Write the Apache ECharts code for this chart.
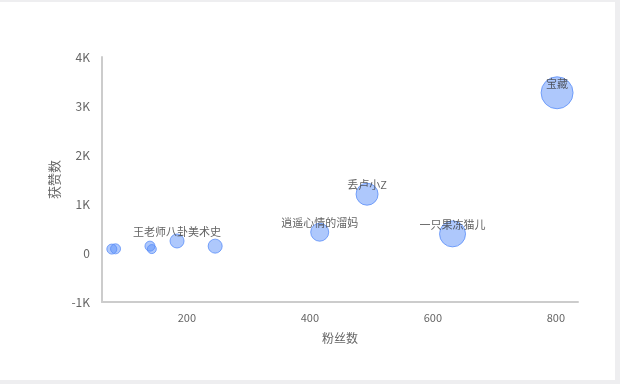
<!DOCTYPE html>
<html>
<head>
<meta charset="utf-8">
<script src="https://cdn.jsdelivr.net/npm/echarts@6/dist/echarts.min.js"></script>
<style>
html,body{margin:0;padding:0;background:#eeeef0;width:620px;height:384px;overflow:hidden;}
#c{position:absolute;left:0;top:2px;width:615px;height:378px;background:#fff;}
</style>
</head>
<body>
<div id="c"></div>
<script>
var names = ['', '', '', '', '王老师八卦美术史', '', '逍遥心情的溜妈', '丢卢小Z', '一只果冻猫儿', '宝藏'];
var fans = [78, 84, 140, 143, 184, 246, 416, 493, 632, 802];
var likes = [80, 85, 140, 80, 245, 140, 425, 1200, 390, 3270];
var bubble = [10, 10, 10, 9, 14, 14, 18, 22, 26, 32];
var yTicks = [-1000, 0, 1000, 2000, 3000, 4000];

var data = fans.map(function (f, i) {
  return { name: names[i], value: [f, likes[i], bubble[i]], label: { show: names[i] !== '' } };
});

var chart = echarts.init(document.getElementById('c'));
chart.setOption({
  animation: false,
  textStyle: { fontFamily: 'Noto Sans CJK SC, sans-serif' },
  grid: { left: 102, right: 37, top: 55, bottom: 78 },
  xAxis: {
    type: 'value',
    name: '粉丝数',
    nameLocation: 'middle',
    nameGap: 30,
    nameTextStyle: { color: '#666', fontSize: 12 },
    min: 62, max: 836,
    splitLine: { show: false },
    axisTick: { show: false },
    axisLine: { show: true, onZero: false, lineStyle: { color: '#ccc', width: 2 } },
    axisLabel: {
      color: '#666', fontSize: 11, margin: 10,
      showMinLabel: false, showMaxLabel: false,
      formatter: function (v) { return v % 200 === 0 ? String(v) : ''; }
    }
  },
  yAxis: {
    type: 'value',
    name: '获赞数',
    nameLocation: 'middle',
    nameGap: 40,
    nameTextStyle: { color: '#666', fontSize: 13 },
    min: yTicks[0], max: yTicks[yTicks.length - 1], interval: 1000,
    splitLine: { show: false },
    axisTick: { show: false },
    axisLine: { show: true, onZero: false, lineStyle: { color: '#ccc', width: 2 } },
    axisLabel: {
      color: '#666', fontSize: 12, margin: 12,
      formatter: function (v) { return v === 0 ? '0' : (v / 1000) + 'K'; }
    }
  },
  series: [{
    type: 'scatter',
    data: data,
    symbolSize: function (v) { return v[2]; },
    itemStyle: { color: 'rgba(91,143,249,0.62)', borderColor: '#5B8FF9', borderWidth: 1 },
    label: {
      position: 'inside', offset: [0, -9],
      formatter: '{b}', color: '#3a3a3a', fontSize: 11
    }
  }]
});
</script>
</body>
</html>
